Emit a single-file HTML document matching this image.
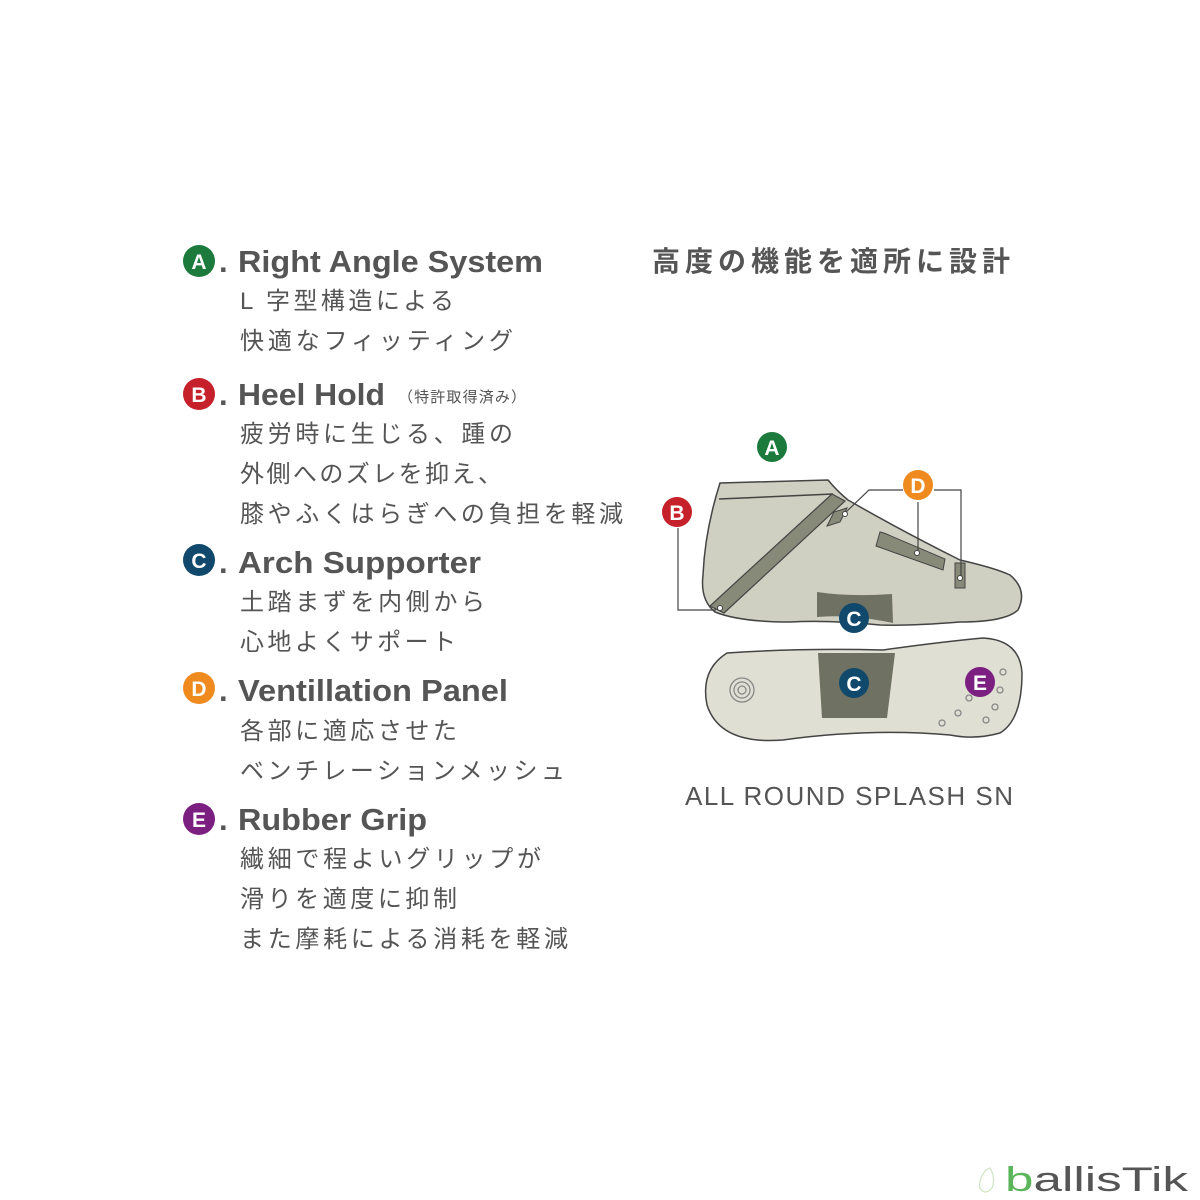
<!DOCTYPE html>
<html><head><meta charset="utf-8"><style>
html,body{margin:0;padding:0;background:#fff;}
svg{display:block}
.t{font-family:"Liberation Sans",sans-serif;font-weight:bold;font-size:31px;fill:#555}
.j{font-family:"Liberation Sans","Noto Sans CJK JP",sans-serif;font-size:24px;fill:#555}
.b{font-family:"Liberation Sans",sans-serif;font-weight:bold;font-size:21px;fill:#fff}
</style></head><body>
<svg width="1200" height="1200" viewBox="0 0 1200 1200" xmlns="http://www.w3.org/2000/svg">
<g class="b" text-anchor="middle">
<circle cx="199" cy="261" r="16" fill="#1b7a3c"/><text x="199" y="269" class="b">A</text>
<circle cx="199" cy="394" r="16" fill="#c6202b"/><text x="199" y="402" class="b">B</text>
<circle cx="199" cy="560" r="16" fill="#10496b"/><text x="199" y="568" class="b">C</text>
<circle cx="199" cy="688" r="16" fill="#ef8a1f"/><text x="199" y="696" class="b">D</text>
<circle cx="199" cy="819" r="16" fill="#7b1f80"/><text x="199" y="827" class="b">E</text>
</g>
<text class="t" x="219" y="272">.</text><text class="t" x="238" y="272" textLength="305" lengthAdjust="spacingAndGlyphs">Right Angle System</text>
<text class="j" x="240" y="309" textLength="214">L 字型構造による</text>
<text class="j" x="240" y="349" textLength="273">快適なフィッティング</text>
<text class="t" x="219" y="405">.</text><text class="t" x="238" y="405" textLength="147" lengthAdjust="spacingAndGlyphs">Heel Hold</text>
<text class="j" x="398" y="402" style="font-size:15px" textLength="128">（特許取得済み）</text>
<text class="j" x="240" y="442" textLength="273">疲労時に生じる、踵の</text>
<text class="j" x="240" y="482" textLength="262">外側へのズレを抑え、</text>
<text class="j" x="240" y="522" textLength="383">膝やふくはらぎへの負担を軽減</text>
<text class="t" x="219" y="573">.</text><text class="t" x="238" y="573" textLength="243" lengthAdjust="spacingAndGlyphs">Arch Supporter</text>
<text class="j" x="240" y="610" textLength="245">土踏まずを内側から</text>
<text class="j" x="240" y="650" textLength="216">心地よくサポート</text>
<text class="t" x="219" y="701">.</text><text class="t" x="238" y="701" textLength="270" lengthAdjust="spacingAndGlyphs">Ventillation Panel</text>
<text class="j" x="240" y="739" textLength="217">各部に適応させた</text>
<text class="j" x="240" y="779" textLength="325">ベンチレーションメッシュ</text>
<text class="t" x="219" y="830">.</text><text class="t" x="238" y="830" textLength="189" lengthAdjust="spacingAndGlyphs">Rubber Grip</text>
<text class="j" x="240" y="867" textLength="301">繊細で程よいグリップが</text>
<text class="j" x="240" y="907" textLength="217">滑りを適度に抑制</text>
<text class="j" x="240" y="947" textLength="328">また摩耗による消耗を軽減</text>

<text class="j" x="652" y="271" style="font-size:28px;font-weight:bold" textLength="358">高度の機能を適所に設計</text>

<path d="M720,483 L828,480 Q838,492 848,500 Q900,530 960,560 Q995,568 1010,575 Q1028,590 1018,610 Q1005,622 960,622 Q910,626 880,625 Q830,620 790,622 Q740,622 715,612 Q700,600 703,575 Q705,530 720,483 Z" fill="#cfcfc2" stroke="#444" stroke-width="1.5"/>
<path d="M719,499 L833,494" stroke="#444" stroke-width="1.5" fill="none"/>
<path d="M832,494 L845,501 L724,613 L710,606 Z" fill="#878a78" stroke="#444" stroke-width="1.2"/>
<path d="M827,526 L834,512 L847,508 L840,522 Z" fill="#878a78" stroke="#444" stroke-width="1"/>
<path d="M880,532 L884,533 L945,559 L943,570 L876,546 Z" fill="#878a78" stroke="#444" stroke-width="1"/>
<rect x="955" y="563" width="10" height="25" fill="#878a78" stroke="#444" stroke-width="1"/>
<path d="M817,592 Q850,597 892,594 L893,623 Q850,614 817,617 Z" fill="#6f7163"/>
<g stroke="#444" stroke-width="1.2" fill="none">
<polyline points="678,528 678,610 716,610"/>
<polyline points="903,490 869,490 845,513"/>
<line x1="918" y1="502" x2="918" y2="553"/>
<polyline points="934,490 961,490 961,577"/>
</g>
<g fill="#fff" stroke="#444" stroke-width="1">
<circle cx="720" cy="608" r="2.5"/><circle cx="845" cy="514" r="2.5"/><circle cx="917" cy="553" r="2.5"/><circle cx="960" cy="578" r="2.5"/>
</g>
<path d="M727,653 Q800,648 883,650 Q940,642 983,638 Q1020,640 1022,673 Q1022,720 1000,733 Q975,740 950,735 Q870,728 783,740 Q720,745 707,705 Q700,670 727,653 Z" fill="#dfdfd3" stroke="#444" stroke-width="1.5"/>
<path d="M818,653 L895,653 L887,718 L822,718 Z" fill="#6f7163"/>
<g fill="none" stroke="#888" stroke-width="1.3">
<circle cx="742" cy="690" r="12"/><circle cx="742" cy="690" r="8"/><circle cx="742" cy="690" r="4"/>
<circle cx="1003" cy="672" r="3"/><circle cx="1000" cy="690" r="3"/><circle cx="969" cy="698" r="3"/><circle cx="995" cy="707" r="3"/><circle cx="958" cy="713" r="3"/><circle cx="986" cy="720" r="3"/><circle cx="942" cy="723" r="3"/>
</g>
<g text-anchor="middle">
<circle cx="772" cy="447" r="15" fill="#1b7a3c"/><text x="772" y="455" class="b">A</text>
<circle cx="677" cy="512" r="15" fill="#c6202b"/><text x="677" y="520" class="b">B</text>
<circle cx="918" cy="485" r="15" fill="#ef8a1f"/><text x="918" y="493" class="b">D</text>
<circle cx="854" cy="618" r="15" fill="#10496b"/><text x="854" y="626" class="b">C</text>
<circle cx="854" cy="683" r="15" fill="#10496b"/><text x="854" y="691" class="b">C</text>
<circle cx="980" cy="682" r="15" fill="#7b1f80"/><text x="980" y="690" class="b">E</text>
</g>
<text x="685" y="805" style="font-family:'Liberation Sans',sans-serif;font-size:26px;fill:#555" textLength="328">ALL ROUND SPLASH SN</text>
<path d="M986,1170 Q978,1180 980,1188 Q985,1196 992,1188 Q996,1178 990,1168 Z" fill="none" stroke="#cfe3c0" stroke-width="1.2"/>
<text x="1005" y="1191" textLength="183" lengthAdjust="spacingAndGlyphs" style="font-family:'Liberation Sans',sans-serif;font-size:34px;fill:#555"><tspan fill="#5bb55b">b</tspan>allisTik</text>
</svg>
</body></html>
